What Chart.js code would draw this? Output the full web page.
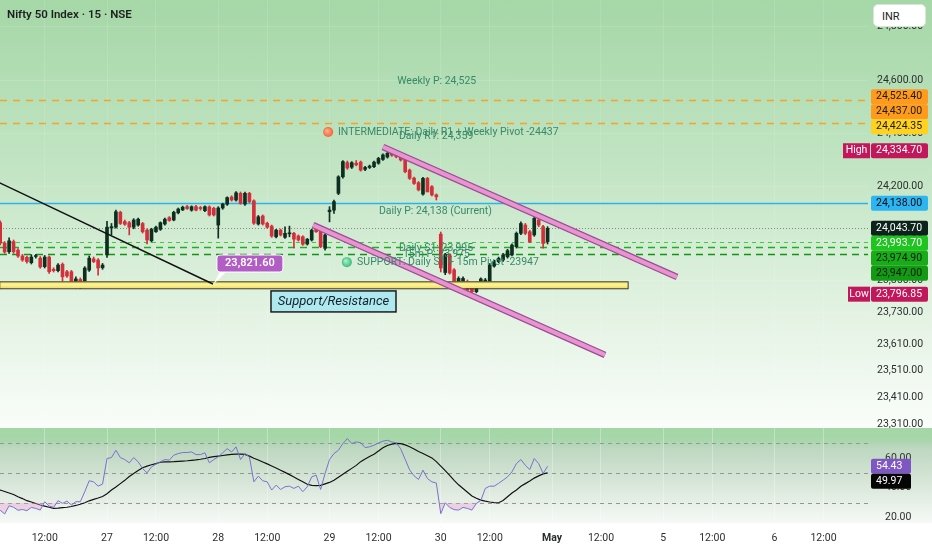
<!DOCTYPE html>
<html>
<head>
<meta charset="utf-8">
<script src="https://cdn.jsdelivr.net/npm/chart.js@4.4.1/dist/chart.umd.min.js"></script>
<style>
html,body{margin:0;padding:0;width:932px;height:550px;overflow:hidden;background:#fff;}
#bgMain{position:absolute;left:0;top:0;width:932px;height:428px;
  background:linear-gradient(to bottom,#a5d7a7 0%,#c3e5c4 40%,#e2f2e2 72%,#fafdfa 100%);}
#bgRsi{position:absolute;left:0;top:428px;width:932px;height:95px;
  background:linear-gradient(to bottom,#a3d6a5 0%,#a9d7ab 14%,#bcd7bf 20%,#d6e5d7 55%,#f6f9f6 100%);}
#main{position:absolute;left:0;top:0;}
#rsi{position:absolute;left:0;top:428px;}
#title{position:absolute;left:7px;top:7px;font:600 11.5px Roboto,"Noto Sans",sans-serif;color:#1c211e;}
#inr{position:absolute;left:873px;top:4px;width:53px;height:23px;box-sizing:border-box;background:#fff;
  border:1px solid #dde3dd;border-radius:5px;font:11px Roboto,sans-serif;color:#222;padding:5px 0 0 8px;}
</style>
</head>
<body>
<div id="bgMain"></div>
<div id="bgRsi"></div>
<canvas id="main" width="932" height="428"></canvas>
<canvas id="rsi" width="932" height="122"></canvas>
<div id="title">Nifty 50 Index · 15 · NSE</div>
<div id="inr">INR</div>
<script>
// 15m candles, index 0 = 24 Apr 09:15 (25 bars per session)
const opens = [24080,24065,23988,23956,23994,23962,23940,23935,23915,23938,23932,23900,23936,23890,23885,23909,23881,23881,23840,23852,23846,23887,23929,23925,23896,
  23944,24045,24048,24104,24069,24065,24048,24056,24062,24037,23997,24031,24040,24060,24084,24075,24102,24113,24125,24112,24125,24120,24110,24124,24119,
  24056,24120,24134,24161,24150,24175,24135,24175,24147,24060,24090,24063,24052,24012,24037,24010,24023,24025,24015,24012,23985,24000,24048,24048,23969,
  24106,24112,24175,24237,24290,24273,24288,24292,24265,24272,24275,24288,24302,24311,24328,24324,24318,24311,24262,24232,24215,24172,24231,24200,24169,
  24022,23878,23944,23888,23838,23831,23844,23825,23806,23839,23840,23844,23902,23919,23925,23937,23944,23975,24025,24056,24031,24019,24075,24050,23994];
const highs = [24095,24072,23994,24008,24000,23968,23946,23940,23945,23946,23938,23942,23940,23896,23912,23914,23886,23886,23862,23858,23900,23940,23936,23930,23912,
  24070,24062,24112,24108,24075,24070,24080,24082,24066,24042,24044,24052,24068,24082,24088,24108,24120,24127,24130,24128,24130,24126,24128,24128,24123,
  24125,24138,24162,24166,24182,24180,24180,24179,24151,24092,24094,24067,24056,24040,24041,24049,24052,24029,24019,24016,24006,24041,24052,24052,24023,
  24125,24150,24241,24298,24296,24294,24298,24296,24276,24281,24296,24310,24323,24334.7,24333,24329,24322,24315,24266,24236,24219,24235,24235,24204,24173,
  24030,23950,23948,23893,23862,23862,23850,23830,23843,23858,23856,23912,23924,23936,23950,23965,23986,24030,24068,24062,24036,24094,24080,24055,24050];
const lows = [24050,23982,23950,23950,23950,23935,23920,23913,23910,23932,23894,23895,23875,23880,23880,23835,23860,23822,23820,23818,23840,23882,23915,23868,23890,
  23935,24020,24044,24058,24055,24019,24042,24052,24026,23985,23992,24028,24036,24056,24070,24072,24098,24110,24115,24108,24109,24112,24106,24090,24090,
  24007,24115,24130,24146,24146,24134,24130,24140,24058,24056,24056,24044,24010,24008,24015,24006,24012,23970,23996,23980,23981,23996,24028,23971,23962,
  24068,24100,24170,24232,24265,24268,24278,24258,24260,24268,24271,24284,24298,24307,24314,24308,24296,24252,24227,24208,24184,24168,24184,24165,24150,
  23880,23870,23872,23826,23832,23826,23806,23796.85,23802,23834,23836,23840,23898,23915,23920,23932,23940,23970,24020,24020,23990,24014,24050,23969,23985];
const closes = [24065,23988,23955,23997,23956,23940,23925,23919,23936,23940,23899,23936,23881,23885,23906,23862,23865,23831,23854,23840,23895,23932,23919,23895,23906,
  24048,24050,24106,24062,24059,24048,24075,24078,24031,24000,24040,24048,24065,24078,24073,24104,24116,24123,24118,24125,24112,24118,24125,24094,24094,
  24120,24135,24159,24150,24177,24138,24175,24144,24063,24087,24060,24048,24015,24037,24019,24025,24027,24003,24000,23984,24003,24037,24031,23975,24019,
  24112,24144,24237,24294,24270,24290,24282,24262,24272,24277,24292,24306,24319,24325,24318,24312,24300,24256,24231,24212,24188,24231,24180,24169,24162,
  23895,23945,23876,23831,23856,23856,23812,23806,23838,23854,23850,23906,23919,23931,23944,23960,23981,24025,24062,24025,23994,24081,24056,23987,24043.7];

const rsiLine = [26,25,22.5,28,27,25,25.5,24.7,26.9,26.2,25.1,30.7,27.8,26.9,31.4,29.6,31.1,28.5,30.7,30.7,37.4,44.7,44,41.1,42.5,
  59.6,60.2,65.1,60.2,58.9,56.7,60.2,57.4,52.9,50,54,55.8,57.4,58.9,58.5,61.8,62.9,63.6,63.6,64,62.2,62.2,63.4,56.7,58.9,
  60.7,63.4,66.2,64,67.4,58.9,62.9,60.7,44,47.8,44.7,44,38.5,41.8,38.9,40.7,41.1,39.6,41.1,37.4,40.7,47.3,48.5,38.9,49.6,
  58.9,62.9,65.1,69.6,72.9,69.6,70.7,70.2,66.9,67.4,68.5,70,71.2,71.8,70.7,70,66,59,52,48,45.6,51.8,46.2,44,43.2,
  22.7,30,26.9,25.4,25.1,26.9,26.2,25.1,29.6,31.5,39.6,41.1,41.1,43,45.1,47.3,50.7,56.2,58.9,55.1,52.2,59.6,56.2,49.6,54.43];
const rsiAvg = [39,38.5,37.5,36.5,35.5,34,32.8,31.4,30.5,29.5,28.5,27.8,27,26.3,26.4,26.7,27,27.5,28.2,29,30,31.3,32.3,33.2,34.2,
  36,38.5,40.5,42.8,45,47.5,49.6,51.5,53.4,54.5,55.4,56.2,57.1,57.4,57.4,57.5,57.7,57.9,58.1,58.4,58.7,59.1,59.6,60.3,60.8,
  61.2,61.6,62,62.3,62.5,62.5,62.3,61.2,59.8,58.6,57.3,56,54.6,53.2,51.8,50.3,48.8,47.2,45.6,44,42.4,41.6,41.5,41.6,42.6,
  43.6,45,47,49,51,53,55,57.5,59.3,61,62.5,64.6,66.8,68.3,69.2,69.7,69.5,68.7,67.5,66,64.3,63,61.5,60,57.5,
  54.5,51.5,48.3,45,42,39.5,37,34.5,33,31.8,31.1,30.5,30.1,30,31.5,34,36.5,38.5,41,42.8,44.5,46.5,48,49.3,49.97];

const priceTicks = [24800,24600,24400,24200,24000,23850,23730,23610,23510,23410,23310];
const rsiTicks = [60,40,20];
const rsiBands = [70,50,30];
const timeTicks = [11,25,36,50,61,75,86,100,111,125,136,150,161,175,186];
const timeLabels = ['12:00','27','12:00','28','12:00','29','12:00','30','12:00','May','12:00','5','12:00','6','12:00'];

// horizontal levels drawn across the chart
const linePrices = [24525.4,24437,24138,24043.7,23993.7,23974.9,23947];
// price tags on the right axis
const tagPrices = [24525.4,24437,24424.35,24334.7,24138,24043.7,23993.7,23974.9,23947,23796.85];
const tagNames = ['','','','High','','','','','','Low'];
const lastPrice = 24043.7;
const rsiTags = [54.43,49.97];

// drawings: [index, price]
const trendLine = [[0,24221],[48.8,23835]];
const channelTop = [[87.0,24349],[153.1,23861]];
const channelBottom = [[71.3,24056],[136.9,23569]];
const zoneIdx = [0.9,142.1];
const zonePrice = [23819,23845];
const calloutValue = 23821.6;

const UP = '#0e2f20', DOWN = '#d3303c';
const FONT = 'Roboto, "Noto Sans", sans-serif';
const fmt = v => v.toLocaleString('en-US',{minimumFractionDigits:2,maximumFractionDigits:2});

const lineStyles = [
  {c:'#f4a42a',w:1.6,d:[7,6]},{c:'#f4a42a',w:1.6,d:[7,6]},{c:'#2ab3f0',w:1.6,d:[]},
  {c:'#7c8c80',w:1,d:[1,2]},{c:'#3ccc3c',w:1,d:[4,4]},{c:'#1faf1f',w:1.5,d:[7,5]},{c:'#149414',w:1.5,d:[7,5]}
];
const tagStyles = [
  ['#ff9a1a','#1a1a1a'],['#ff9a1a','#1a1a1a'],['#ffd21f','#1a1a1a'],['#c2185b','#fff'],['#2bb5f3','#0a0a0a'],
  ['#0c231c','#fff'],['#1ec51e','#fff'],['#18ad18','#0a1a0a'],['#139a13','#0a1a0a'],['#c2185b','#fff']
];

function rrect(ctx,x,y,w,h,r){
  ctx.beginPath();
  ctx.moveTo(x+r,y);ctx.lineTo(x+w-r,y);ctx.quadraticCurveTo(x+w,y,x+w,y+r);
  ctx.lineTo(x+w,y+h-r);ctx.quadraticCurveTo(x+w,y+h,x+w-r,y+h);
  ctx.lineTo(x+r,y+h);ctx.quadraticCurveTo(x,y+h,x,y+h-r);
  ctx.lineTo(x,y+r);ctx.quadraticCurveTo(x,y,x+r,y);ctx.closePath();
}

// keep tags apart, pushing them away from the last price tag
function spreadTags(ys, anchor, gap){
  const out = ys.slice();
  for(let k=anchor-1;k>=0;k--) out[k] = Math.min(out[k], out[k+1]-gap);
  for(let k=anchor+1;k<out.length;k++) out[k] = Math.max(out[k], out[k-1]+gap);
  return out;
}
// no extra room for edge labels, the panes are full bleed
const noPad = s => {s.paddingTop=0;s.paddingBottom=0;s.paddingLeft=0;s.paddingRight=0;};

const mainDraw = {
  id:'mainDraw',
  beforeDatasetsDraw(chart){
    const {ctx, chartArea:a, scales:{x,y}} = chart;
    ctx.save();
    ctx.beginPath();ctx.rect(a.left,a.top,a.right-a.left,a.bottom-a.top);ctx.clip();
    linePrices.forEach((p,k)=>{
      const s = lineStyles[k], py = Math.round(y.getPixelForValue(p))+0.5;
      ctx.strokeStyle=s.c;ctx.lineWidth=s.w;ctx.setLineDash(s.d);
      ctx.beginPath();ctx.moveTo(a.left,py);ctx.lineTo(a.right,py);ctx.stroke();
    });
    ctx.restore();
  },
  afterDatasetsDraw(chart){
    const {ctx, chartArea:a, scales:{x,y}} = chart;
    const P = (i,p)=>[x.getPixelForValue(i), y.getPixelForValue(p)];
    ctx.save();
    ctx.beginPath();ctx.rect(a.left,a.top,a.right-a.left,a.bottom-a.top);ctx.clip();
    ctx.setLineDash([]);
    // support zone
    const zx0 = x.getPixelForValue(zoneIdx[0]), zx1 = x.getPixelForValue(zoneIdx[1]);
    const zy0 = y.getPixelForValue(zonePrice[1]), zy1 = y.getPixelForValue(zonePrice[0]);
    const g = ctx.createLinearGradient(0,zy0,0,zy1);
    g.addColorStop(0,'#f3e15a');g.addColorStop(0.5,'#fbf3a0');g.addColorStop(1,'#f1de58');
    ctx.fillStyle=g;ctx.fillRect(zx0,zy0,zx1-zx0,zy1-zy0);
    ctx.strokeStyle='#3b3a2a';ctx.lineWidth=1;ctx.strokeRect(zx0,zy0+0.5,zx1-zx0,zy1-zy0);
    // trend line
    let p0 = P(...trendLine[0]), p1 = P(...trendLine[1]);
    ctx.strokeStyle='#111';ctx.lineWidth=1.4;
    ctx.beginPath();ctx.moveTo(...p0);ctx.lineTo(...p1);ctx.stroke();
    // channel
    [channelTop, channelBottom].forEach(ln=>{
      const a0 = P(...ln[0]), a1 = P(...ln[1]);
      ctx.lineCap='butt';
      ctx.strokeStyle='#9a4c96';ctx.lineWidth=6.5;
      ctx.beginPath();ctx.moveTo(...a0);ctx.lineTo(...a1);ctx.stroke();
      ctx.strokeStyle='#e794cf';ctx.lineWidth=4;
      ctx.beginPath();ctx.moveTo(...a0);ctx.lineTo(...a1);ctx.stroke();
    });
    // notes
    const note = (txt,i,p)=>{const q=P(i,p);ctx.fillText(txt,q[0],q[1]);};
    ctx.font='10.5px '+FONT;ctx.textBaseline='middle';ctx.textAlign='left';ctx.fillStyle='#37896a';
    note('Weekly P: 24,525',90.2,24596);
    note('Daily R1: 24,359',90.6,24390);
    note('INTERMEDIATE: Daily R1 + Weekly Pivot -24437',76.9,24405);
    note('Daily P: 24,138 (Current)',86.1,24109);
    note('Daily S1: 23,995',90.6,23970);
    note('15m P: 23,975',91.5,23947);
    note('SUPPORT: Daily S1 + 15m Pivot -23947',81.2,23917);
    const dot = (i,p,c1,c2)=>{const q=P(i,p);const rg=ctx.createRadialGradient(q[0]-1.5,q[1]-1.5,0.5,q[0],q[1],5);
      rg.addColorStop(0,c1);rg.addColorStop(1,c2);ctx.fillStyle=rg;ctx.beginPath();ctx.arc(q[0],q[1],5,0,Math.PI*2);ctx.fill();};
    dot(74.7,24405,'#ffb08a','#f3643a');
    dot(78.9,23917,'#a8f0c8','#3cbf78');
    // callout
    const c = P(...trendLine[1]);
    ctx.fillStyle='#fff';
    ctx.beginPath();ctx.moveTo(c[0],c[1]+1);ctx.lineTo(c[0]+7,c[1]-12);ctx.lineTo(c[0]+13,c[1]-12);ctx.closePath();ctx.fill();
    ctx.strokeStyle='#fff';ctx.lineWidth=1;
    rrect(ctx,c[0]+4,c[1]-29,66,17,3);ctx.fillStyle='#b25cc6';ctx.fill();ctx.stroke();
    ctx.fillStyle='#fff';ctx.font='600 11px '+FONT;ctx.textAlign='center';
    ctx.fillText(fmt(calloutValue),c[0]+37,c[1]-20.5);
    // support / resistance tag
    const s = P(61.85,23809);
    ctx.fillStyle='#aee9ef';ctx.fillRect(s[0],s[1],125,21);
    ctx.strokeStyle='#1c1c1c';ctx.lineWidth=1.5;ctx.strokeRect(s[0],s[1],125,21);
    ctx.fillStyle='#14202a';ctx.font='italic 13px '+FONT;ctx.textAlign='center';
    ctx.fillText('Support/Resistance',s[0]+62.5,s[1]+11);
    ctx.restore();
  },
  afterDraw(chart){
    const {ctx, chartArea:a, scales:{y}} = chart;
    const ys = spreadTags(tagPrices.map(p=>y.getPixelForValue(p)), tagPrices.indexOf(lastPrice), 15);
    ctx.save();
    ctx.font='10.5px '+FONT;ctx.textBaseline='middle';
    tagPrices.forEach((p,k)=>{
      const [bg,fg] = tagStyles[k], cy = ys[k], x0 = a.right+3;
      if(tagNames[k]){
        const w = tagNames[k]==='High' ? 27 : 22;
        ctx.fillStyle=bg;ctx.fillRect(x0-w-1,cy-7.5,w,15);
        ctx.fillStyle=fg;ctx.textAlign='center';ctx.fillText(tagNames[k],x0-1-w/2,cy);
      }
      rrect(ctx,x0,cy-7.5,57,15,2);ctx.fillStyle=bg;ctx.fill();
      ctx.fillStyle=fg;ctx.textAlign='left';ctx.fillText(fmt(p),x0+5,cy);
    });
    ctx.restore();
  }
};

const rsiDraw = {
  id:'rsiDraw',
  beforeDatasetsDraw(chart){
    const {ctx, chartArea:a, scales:{y}} = chart;
    ctx.save();
    ctx.strokeStyle='#8f9a91';ctx.lineWidth=1;ctx.setLineDash([4,4]);
    rsiBands.forEach(v=>{const py=Math.round(y.getPixelForValue(v))+0.5;
      ctx.beginPath();ctx.moveTo(a.left,py);ctx.lineTo(a.right,py);ctx.stroke();});
    ctx.restore();
  },
  afterDraw(chart){
    const {ctx, chartArea:a, scales:{y}} = chart;
    const ys = spreadTags(rsiTags.map(v=>y.getPixelForValue(v)), 0, 15);
    const bgs = ['#7e57c2','#050505'];
    ctx.save();
    ctx.font='10.5px '+FONT;ctx.textBaseline='middle';ctx.textAlign='left';
    rsiTags.forEach((v,k)=>{
      rrect(ctx,a.right+3,ys[k]-7.5,40,15,2);ctx.fillStyle=bgs[k];ctx.fill();
      ctx.fillStyle='#fff';ctx.fillText(v.toFixed(2),a.right+8,ys[k]);
    });
    ctx.restore();
  }
};

const X_MIN = 0.955, X_MAX = 196.0;

new Chart(document.getElementById('main'), {
  type:'bar',
  data:{datasets:[
    {label:'wick',data:lows.map((l,i)=>({x:i,y:[l,highs[i]]})),barThickness:1,
     backgroundColor:c=>closes[c.dataIndex]>=opens[c.dataIndex]?UP:DOWN},
    {label:'body',data:opens.map((o,i)=>({x:i,y:[o,closes[i]]})),barThickness:3,minBarLength:1,
     backgroundColor:c=>closes[c.dataIndex]>=opens[c.dataIndex]?UP:DOWN}
  ]},
  options:{
    responsive:false,animation:false,events:[],
    layout:{padding:0},
    datasets:{bar:{grouped:false,borderWidth:0}},
    plugins:{legend:{display:false},tooltip:{enabled:false}},
    scales:{
      x:{type:'linear',min:X_MIN,max:X_MAX,offset:false,
         afterBuildTicks:s=>{s.ticks=timeTicks.map(v=>({value:v}));},
         afterFit:s=>{s.height=0;noPad(s);},
         ticks:{display:false},border:{display:false},
         grid:{drawTicks:false,offset:false,color:'rgba(255,255,255,0.12)'}},
      y:{position:'right',min:23295,max:24900,
         afterBuildTicks:s=>{s.ticks=priceTicks.map(v=>({value:v}));},
         afterFit:s=>{s.width=64;noPad(s);},
         border:{display:false},
         grid:{drawTicks:false,color:'rgba(255,255,255,0.12)'},
         ticks:{padding:9,color:'#2b2f2c',font:{family:FONT,size:10.5},callback:v=>fmt(v)}}
    }
  },
  plugins:[mainDraw]
});

new Chart(document.getElementById('rsi'), {
  type:'line',
  data:{datasets:[
    {label:'RSI',data:rsiLine.map((v,i)=>({x:i,y:v})),borderColor:'#7a70d0',borderWidth:1,pointRadius:0,
     fill:{target:{value:30},above:'rgba(0,0,0,0)',below:'rgba(240,150,210,0.35)'}},
    {label:'RSI MA',data:rsiAvg.map((v,i)=>({x:i,y:v})),borderColor:'#111',borderWidth:1.2,pointRadius:0,fill:false}
  ]},
  options:{
    responsive:false,animation:false,events:[],
    layout:{padding:0},
    plugins:{legend:{display:false},tooltip:{enabled:false}},
    scales:{
      x:{type:'linear',min:X_MIN,max:X_MAX,offset:false,
         afterBuildTicks:s=>{s.ticks=timeTicks.map(v=>({value:v}));},
         afterFit:s=>{s.height=25;noPad(s);},
         border:{display:false},
         grid:{drawTicks:false,color:'rgba(255,255,255,0.3)'},
         ticks:{autoSkip:false,maxRotation:0,padding:7,color:'#2b2f2c',
           font:c=>({family:FONT,size:10.5,weight:(c.tick&&c.tick.value===125)?'bold':'normal'}),
           callback:v=>timeLabels[timeTicks.indexOf(v)]}},
      y:{position:'right',min:15.13,max:80,
         afterBuildTicks:s=>{s.ticks=rsiTicks.map(v=>({value:v}));},
         afterFit:s=>{s.width=64;noPad(s);},
         border:{display:false},
         grid:{display:false},
         ticks:{padding:9,color:'#2b2f2c',font:{family:FONT,size:10.5},callback:v=>v.toFixed(2)}}
    }
  },
  plugins:[rsiDraw]
});
</script>
</body>
</html>
